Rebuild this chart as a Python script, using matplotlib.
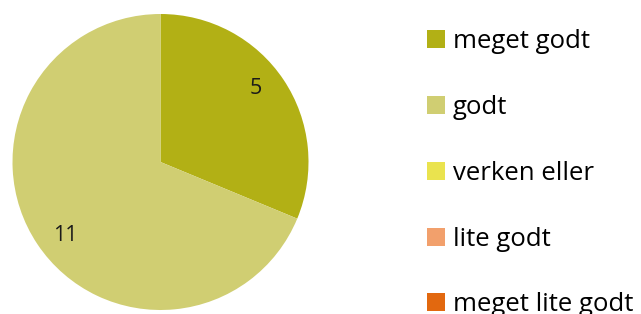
import numpy as np
import matplotlib.pyplot as plt

# answers per category
categories = ["meget godt", "godt", "verken eller", "lite godt", "meget lite godt"]
counts = [5, 11, 0, 0, 0]
colors = ["#B2B015", "#D0CE72", "#EAE34E", "#F2A06C", "#E2680F"]

plt.rcParams['font.family'] = ['Open Sans', 'DejaVu Sans']

fig = plt.figure(figsize=(6.41, 3.14), dpi=100)
ax = fig.add_axes([12.5 / 641, 4 / 314, 296 / 641, 296 / 314])

total = sum(counts)

def count_label(pct):
  n = int(round(pct * total / 100.0))
  return str(n) if n > 0 else ""

wedges, _, autotexts = ax.pie(counts, colors=colors, startangle=90, counterclock=False,
                              autopct=count_label, pctdistance=0.81, radius=1,
                              wedgeprops=dict(linewidth=0))
# excel puts the labels a few degrees further round
rot = np.deg2rad(4)
for t in autotexts:
  x, y = t.get_position()
  t.set_position((x * np.cos(rot) - y * np.sin(rot), x * np.sin(rot) + y * np.cos(rot)))
  t.set_fontsize(15.5)
  t.set_color("#1a1a1a")
ax.set_xlim(-1, 1)
ax.set_ylim(-1, 1)
ax.set_aspect("equal")

fig.legend(wedges, categories, loc="upper left", bbox_to_anchor=(427 / 641, 1 - 29 / 314),
           frameon=False, fontsize=18.5, handlelength=0.7, handleheight=0.7,
           handletextpad=0.31, labelspacing=1.59, borderpad=0, borderaxespad=0)

fig.savefig("out.png", dpi=100)
